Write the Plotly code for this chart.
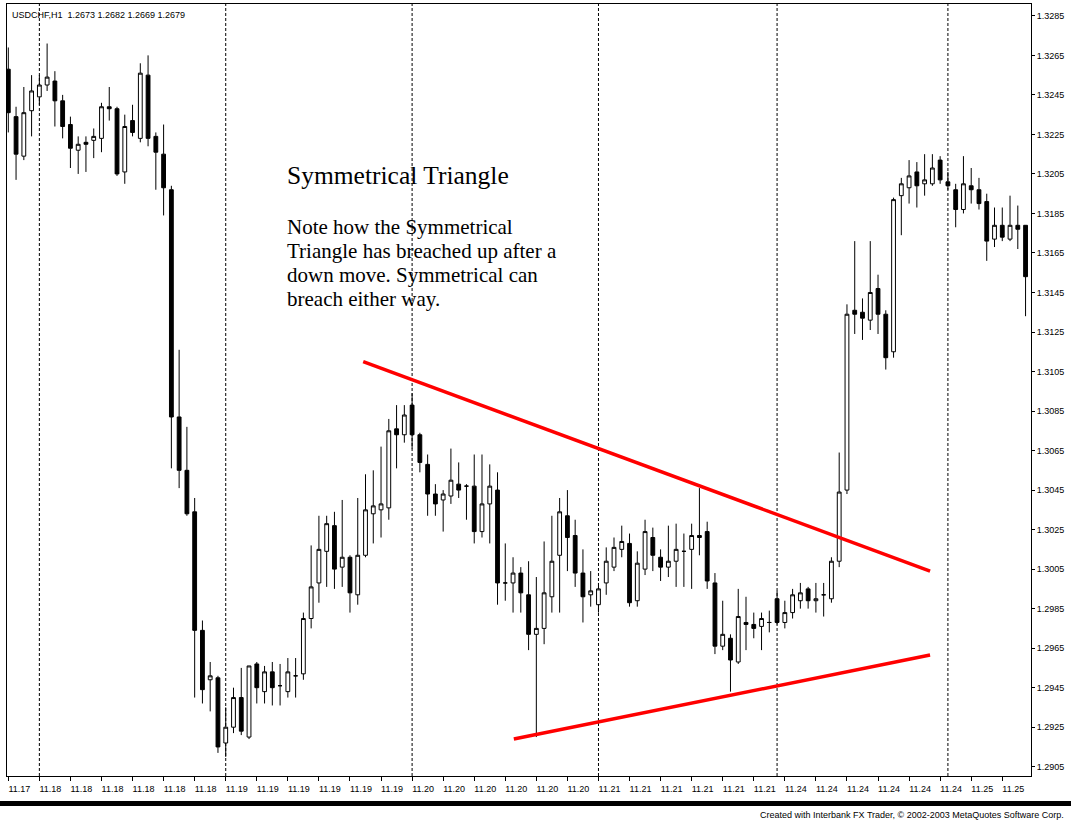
import plotly.graph_objects as go

# ---- USDCHF, H1 bars ---------------------------------------------------------
day_labels = ["11.17", "11.18", "11.19", "11.20", "11.21", "11.24", "11.25"]
bars_per_day = [4, 24, 24, 24, 23, 22, 11]

open_ = [
    1.3258, 1.3234, 1.3214, 1.3237, 1.3244, 1.3250, 1.3252, 1.3242, 1.3230, 1.3217,
    1.3221, 1.3222, 1.3223, 1.3239, 1.3238, 1.3206, 1.3232, 1.3223, 1.3255, 1.3224,
    1.3215, 1.3197, 1.3082, 1.3055, 1.3034, 1.2974, 1.2949, 1.2950, 1.2917, 1.2925,
    1.2940, 1.2920, 1.2957, 1.2943, 1.2953, 1.2946, 1.2943, 1.2951, 1.2952, 1.2980,
    1.2998, 1.3014, 1.3027, 1.3006, 1.3011, 1.2992, 1.3012, 1.3033, 1.3035, 1.3036,
    1.3076, 1.3073, 1.3088, 1.3073, 1.3058, 1.3043, 1.3040, 1.3042, 1.3048, 1.3047,
    1.3047, 1.3024, 1.3038, 1.3045, 1.2998, 1.2998, 1.3003, 1.2992, 1.2972, 1.2975,
    1.2991, 1.3012, 1.3032, 1.3022, 1.3003, 1.2992, 1.2987, 1.2998, 1.3006, 1.3015,
    1.3018, 1.2989, 1.3005, 1.3021, 1.3011, 1.3006, 1.3009, 1.3014, 1.3015, 1.3022,
    1.3024, 1.2998, 1.2966, 1.2970, 1.2958, 1.2978, 1.2977, 1.2976, 1.2978, 1.2990,
    1.2978, 1.2983, 1.2989, 1.2995, 1.2989, 1.2992, 1.2990, 1.3009, 1.3045, 1.3136,
    1.3135, 1.3131, 1.3147, 1.3134, 1.3115, 1.3194, 1.3198, 1.3206, 1.3200, 1.3200,
    1.3212, 1.3201, 1.3197, 1.3187, 1.3199, 1.3197, 1.3191, 1.3172, 1.3179, 1.3172,
    1.3179, 1.3179,
]
high = [
    1.3269, 1.3239, 1.3249, 1.3255, 1.3255, 1.3271, 1.3257, 1.3245, 1.3234, 1.3224,
    1.3224, 1.3228, 1.3241, 1.3249, 1.3239, 1.3235, 1.3240, 1.3261, 1.3265, 1.3226,
    1.3230, 1.3199, 1.3116, 1.3077, 1.3041, 1.2979, 1.2958, 1.2951, 1.2935, 1.2945,
    1.2955, 1.2956, 1.2958, 1.2956, 1.2958, 1.2957, 1.2960, 1.2960, 1.2983, 1.3017,
    1.3032, 1.3032, 1.3034, 1.3040, 1.3012, 1.3041, 1.3053, 1.3055, 1.3067, 1.3081,
    1.3088, 1.3088, 1.3094, 1.3074, 1.3063, 1.3048, 1.3045, 1.3066, 1.3059, 1.3048,
    1.3063, 1.3063, 1.3058, 1.3054, 1.3018, 1.3011, 1.3006, 1.3009, 1.3001, 1.3019,
    1.3032, 1.3041, 1.3045, 1.3030, 1.3015, 1.3004, 1.2998, 1.3016, 1.3021, 1.3027,
    1.3023, 1.3014, 1.3030, 1.3026, 1.3015, 1.3027, 1.3028, 1.3023, 1.3028, 1.3046,
    1.3029, 1.3003, 1.2989, 1.2972, 1.2995, 1.2991, 1.2983, 1.2983, 1.2984, 1.2994,
    1.2989, 1.2995, 1.2998, 1.2996, 1.2998, 1.2998, 1.3011, 1.3064, 1.3139, 1.3171,
    1.3142, 1.3171, 1.3154, 1.3136, 1.3193, 1.3203, 1.3212, 1.3211, 1.3215, 1.3215,
    1.3214, 1.3206, 1.3200, 1.3214, 1.3208, 1.3203, 1.3195, 1.3188, 1.3188, 1.3194,
    1.3189, 1.3179,
]
low = [
    1.3226, 1.3202, 1.3212, 1.3224, 1.3240, 1.3247, 1.3229, 1.3223, 1.3208, 1.3205,
    1.3206, 1.3213, 1.3216, 1.3232, 1.3204, 1.3200, 1.3224, 1.3221, 1.3219, 1.3197,
    1.3184, 1.3056, 1.3046, 1.3032, 1.2940, 1.2937, 1.2933, 1.2912, 1.2910, 1.2922,
    1.2921, 1.2919, 1.2937, 1.2937, 1.2936, 1.2936, 1.2940, 1.2940, 1.2949, 1.2975,
    1.2988, 1.2996, 1.2995, 1.2996, 1.2983, 1.2987, 1.3011, 1.3018, 1.3021, 1.3030,
    1.3056, 1.3069, 1.3066, 1.3054, 1.3032, 1.3032, 1.3024, 1.3038, 1.3041, 1.3030,
    1.3018, 1.3021, 1.3018, 1.2987, 1.2989, 1.2983, 1.2983, 1.2964, 1.2920, 1.2967,
    1.2983, 1.2983, 1.3004, 1.2996, 1.2978, 1.2986, 1.2983, 1.2992, 1.3004, 1.3011,
    1.2986, 1.2986, 1.3002, 1.3004, 1.2999, 1.3001, 1.2996, 1.2996, 1.2995, 1.3012,
    1.2995, 1.2962, 1.2964, 1.2943, 1.2957, 1.2964, 1.2970, 1.2964, 1.2973, 1.2977,
    1.2975, 1.2980, 1.2985, 1.2985, 1.2983, 1.2981, 1.2988, 1.3006, 1.3043, 1.3124,
    1.3121, 1.3126, 1.3124, 1.3106, 1.3112, 1.3174, 1.3190, 1.3188, 1.3194, 1.3199,
    1.3200, 1.3197, 1.3178, 1.3185, 1.3190, 1.3187, 1.3161, 1.3168, 1.3171, 1.3171,
    1.3167, 1.3133,
]
close = [
    1.3236, 1.3215, 1.3236, 1.3247, 1.3250, 1.3254, 1.3242, 1.3229, 1.3218, 1.3220,
    1.3220, 1.3224, 1.3239, 1.3238, 1.3205, 1.3229, 1.3226, 1.3256, 1.3223, 1.3216,
    1.3198, 1.3082, 1.3055, 1.3033, 1.2974, 1.2944, 1.2951, 1.2915, 1.2925, 1.2940,
    1.2923, 1.2956, 1.2945, 1.2953, 1.2945, 1.2946, 1.2953, 1.2951, 1.2980, 1.2996,
    1.3015, 1.3028, 1.3005, 1.3011, 1.2993, 1.3012, 1.3035, 1.3037, 1.3038, 1.3075,
    1.3073, 1.3083, 1.3073, 1.3059, 1.3043, 1.3038, 1.3043, 1.3050, 1.3045, 1.3047,
    1.3024, 1.3038, 1.3047, 1.2998, 1.2998, 1.3003, 1.2993, 1.2972, 1.2975, 1.2993,
    1.3009, 1.3034, 1.3021, 1.3003, 1.2991, 1.2994, 1.2995, 1.3009, 1.3016, 1.3019,
    1.2988, 1.3008, 1.3024, 1.3012, 1.3006, 1.3009, 1.3015, 1.3014, 1.3022, 1.3021,
    1.2999, 1.2966, 1.2972, 1.2959, 1.2981, 1.2977, 1.2975, 1.2980, 1.2978, 1.2978,
    1.2983, 1.2992, 1.2993, 1.2989, 1.2990, 1.2992, 1.3009, 1.3044, 1.3134, 1.3134,
    1.3132, 1.3145, 1.3134, 1.3112, 1.3192, 1.3200, 1.3204, 1.3199, 1.3202, 1.3208,
    1.3202, 1.3199, 1.3187, 1.3200, 1.3197, 1.3190, 1.3171, 1.3179, 1.3173, 1.3179,
    1.3177, 1.3153,
]

# price scale labels
price_ticks = [1.2905, 1.2925, 1.2945, 1.2965, 1.2985, 1.3005, 1.3025, 1.3045,
               1.3065, 1.3085, 1.3105, 1.3125, 1.3145, 1.3165, 1.3185, 1.3205,
               1.3225, 1.3245, 1.3265, 1.3285]

# triangle boundaries: (bar index, price) at each end
upper_bar = [45.7, 118.7]
upper_price = [1.3110, 1.3004]
lower_bar = [65.1, 118.7]
lower_price = [1.2919, 1.29615]

chart_title = "Symmetrical Triangle"
note_lines = [
    "Note how the Symmetrical",
    "Triangle has breached up after a",
    "down move. Symmetrical can",
    "breach either way.",
]
header = "USDCHF,H1  1.2673 1.2682 1.2669 1.2679"
footer = "Created with Interbank FX Trader, \u00a9 2002-2003 MetaQuotes Software Corp."

# ---- derived bar dates ---------------------------------------------------------
bar_dates = []
for lab, n in zip(day_labels, bars_per_day):
    bar_dates += [lab] * n
n_bars = len(bar_dates)
idx = list(range(n_bars))
day_starts = [i for i in range(1, n_bars) if bar_dates[i] != bar_dates[i - 1]]
tick_idx = list(range(0, n_bars, 4))
tick_txt = [bar_dates[i] for i in tick_idx]

# ---- geometry ------------------------------------------------------------------
W, H = 1071, 822
L, R, T, B = 7, 1031, 4, 776          # plot area edges in px
pw, ph = R - L, B - T


def px(x):
    return (x - L) / pw


def py(y):
    return (B - y) / ph


AXIS_FONT = dict(family="Liberation Sans, Arial, sans-serif", size=9, color="black")
SERIF = "Liberation Serif, Times New Roman, serif"

fig = go.Figure()
fig.add_trace(go.Candlestick(
    x=idx, open=open_, high=high, low=low, close=close,
    increasing=dict(line=dict(color="black", width=1), fillcolor="white"),
    decreasing=dict(line=dict(color="black", width=1), fillcolor="black"),
    whiskerwidth=0, showlegend=False, hoverinfo="skip",
))

shapes = []
# daily period separators
for d in day_starts:
    shapes.append(dict(type="line", xref="x", yref="paper", x0=d, x1=d, y0=0, y1=1,
                       line=dict(color="black", width=1, dash="3px,2px"), layer="below"))
# triangle trend lines
shapes.append(dict(type="line", xref="x", yref="y",
                   x0=upper_bar[0], y0=upper_price[0], x1=upper_bar[1], y1=upper_price[1],
                   line=dict(color="#ff0000", width=3.5)))
shapes.append(dict(type="line", xref="x", yref="y",
                   x0=lower_bar[0], y0=lower_price[0], x1=lower_bar[1], y1=lower_price[1],
                   line=dict(color="#ff0000", width=3.5)))
# black bar under the time scale
shapes.append(dict(type="rect", xref="paper", yref="paper",
                   x0=px(0), x1=px(W), y0=py(806), y1=py(801),
                   fillcolor="black", line=dict(width=0)))

annotations = [
    dict(text=chart_title, xref="paper", yref="paper", x=px(285), y=py(175.5),
         xanchor="left", yanchor="middle", showarrow=False,
         font=dict(family=SERIF, size=25.5, color="black")),
    dict(text=header, xref="paper", yref="paper", x=px(10), y=py(14.5),
         xanchor="left", yanchor="middle", showarrow=False, font=AXIS_FONT),
    dict(text=footer, xref="paper", yref="paper", x=px(1066), y=py(815),
         xanchor="right", yanchor="middle", showarrow=False, font=AXIS_FONT),
    # last time label sits at the right border
    dict(text=day_labels[-1], xref="x", yref="paper", x=n_bars, y=py(786.5),
         xanchor="left", yanchor="middle", showarrow=False, xshift=-1, font=AXIS_FONT),
]
for k, line in enumerate(note_lines):
    annotations.append(dict(text=line, xref="paper", yref="paper", x=px(285),
                            y=py(226.5 + 24.2 * k), xanchor="left", yanchor="middle",
                            showarrow=False,
                            font=dict(family=SERIF, size=21, color="black")))

fig.update_layout(
    width=W, height=H, autosize=False,
    margin=dict(l=L, r=W - R, t=T, b=H - B),
    paper_bgcolor="white", plot_bgcolor="white",
    shapes=shapes, annotations=annotations,
    hovermode=False, showlegend=False,
    xaxis=dict(range=[-0.167, 131.7], rangeslider=dict(visible=False),
               tickvals=tick_idx, ticktext=tick_txt, ticks="outside", ticklen=4,
               tickcolor="black", tickfont=AXIS_FONT, ticklabelshift=11,
               showgrid=False, zeroline=False, showline=True, mirror=True,
               linecolor="black", linewidth=1),
    yaxis=dict(side="right", range=[1.29003, 1.32910],
               tickvals=price_ticks, ticktext=[f"{v:.4f}" for v in price_ticks],
               ticks="outside", ticklen=3, tickcolor="black", tickfont=AXIS_FONT,
               showgrid=False, zeroline=False, showline=True, mirror=True,
               linecolor="black", linewidth=1),
)

fig.write_html("out.html")
